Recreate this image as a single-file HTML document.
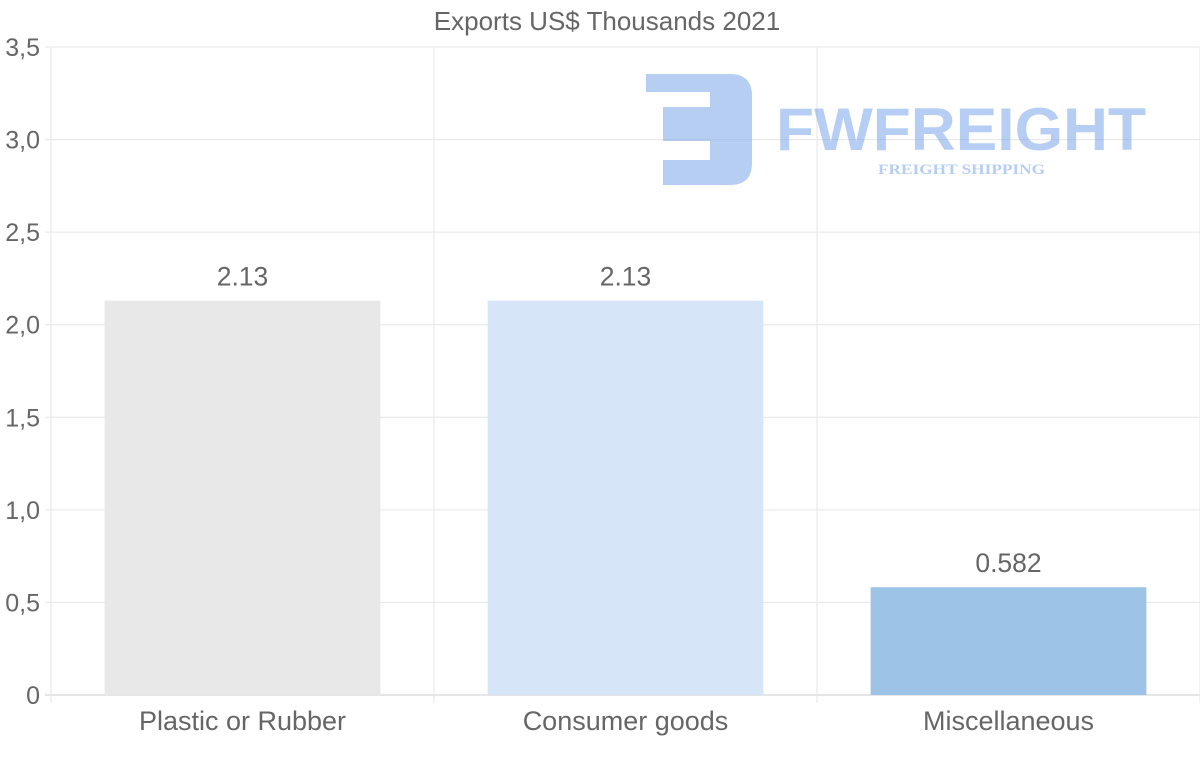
<!DOCTYPE html>
<html><head><meta charset="utf-8"><style>
html,body{margin:0;padding:0;background:#fff;}
svg{display:block;font-family:"Liberation Sans",Arial,sans-serif;}
</style></head><body>
<svg id="c" width="1200" height="763">
<text x="607" y="30" text-anchor="middle" font-size="26" fill="#666">Exports US$ Thousands 2021</text>
<g id="grid"></g>
<g id="logo" opacity="0.5">
<path d="M646,74 H730 Q752,74 752,96 V163 Q752,185 730,185 H663 V160 H710 V141 H663 V107 H710 V92 H646 Z" fill="#6f9ee8"/>
<text x="776" y="150" font-size="60" font-weight="bold" fill="#6f9ee8" textLength="370" lengthAdjust="spacingAndGlyphs">FWFREIGHT</text>
<text x="878" y="174" font-size="15" font-weight="bold" font-family="Liberation Serif,serif" fill="#6f9ee8" textLength="167" lengthAdjust="spacingAndGlyphs">FREIGHT SHIPPING</text>
</g>
<g id="bars"></g>
</svg>
<script>
const categories=["Plastic or Rubber","Consumer goods","Miscellaneous"];
const values=[2.13,2.13,0.582];
const valueLabels=["2.13","2.13","0.582"];
const yTicks=[0,0.5,1,1.5,2,2.5,3,3.5];
const yTickLabels=["0","0,5","1,0","1,5","2,0","2,5","3,0","3,5"];
const colors=["#e8e8e8","#d6e6f8","#9dc3e6"];
const NS="http://www.w3.org/2000/svg";
const L=51,R=1200,T=47,B=695,yMax=3.5;
const y=v=>B-(v/yMax)*(B-T);
const band=(R-L)/categories.length;
const x=i=>L+band*i;
function mk(t,a,p){const e=document.createElementNS(NS,t);for(const k in a)e.setAttribute(k,a[k]);p.appendChild(e);return e;}
const g=document.getElementById('grid'),bg=document.getElementById('bars');
yTicks.forEach((v,i)=>{
 const ln=mk('line',{x1:L-6,x2:R,y1:y(v),y2:y(v),stroke:i==0?'#ccc':'#e6e6e6','stroke-width':1},g);
 
 
 const t=mk('text',{x:40,y:y(v)+9,'text-anchor':'end','font-size':25,fill:'#666'},g);
 t.textContent=yTickLabels[i];
 
 
});
for(let i=0;i<=categories.length;i++){
 const ln=mk('line',{x1:x(i),x2:x(i),y1:T,y2:B+8,stroke:'#e6e6e6','stroke-width':1},g);
 
 
}
categories.forEach((c,i)=>{
 const w=band*0.72,bx=x(i)+(band-w)/2;
 const r=mk('rect',{x:bx,y:y(values[i]),width:w,height:B-y(values[i]),fill:colors[i]},bg);
 
 
 const vl=mk('text',{x:x(i)+band/2,y:y(values[i])-15,'text-anchor':'middle','font-size':26.5,fill:'#666'},bg);
 vl.textContent=valueLabels[i];
 
 
 const xl=mk('text',{x:x(i)+band/2,y:730,'text-anchor':'middle','font-size':27,fill:'#666'},bg);
 xl.textContent=c;
 
 
});
</script>
</body></html>
